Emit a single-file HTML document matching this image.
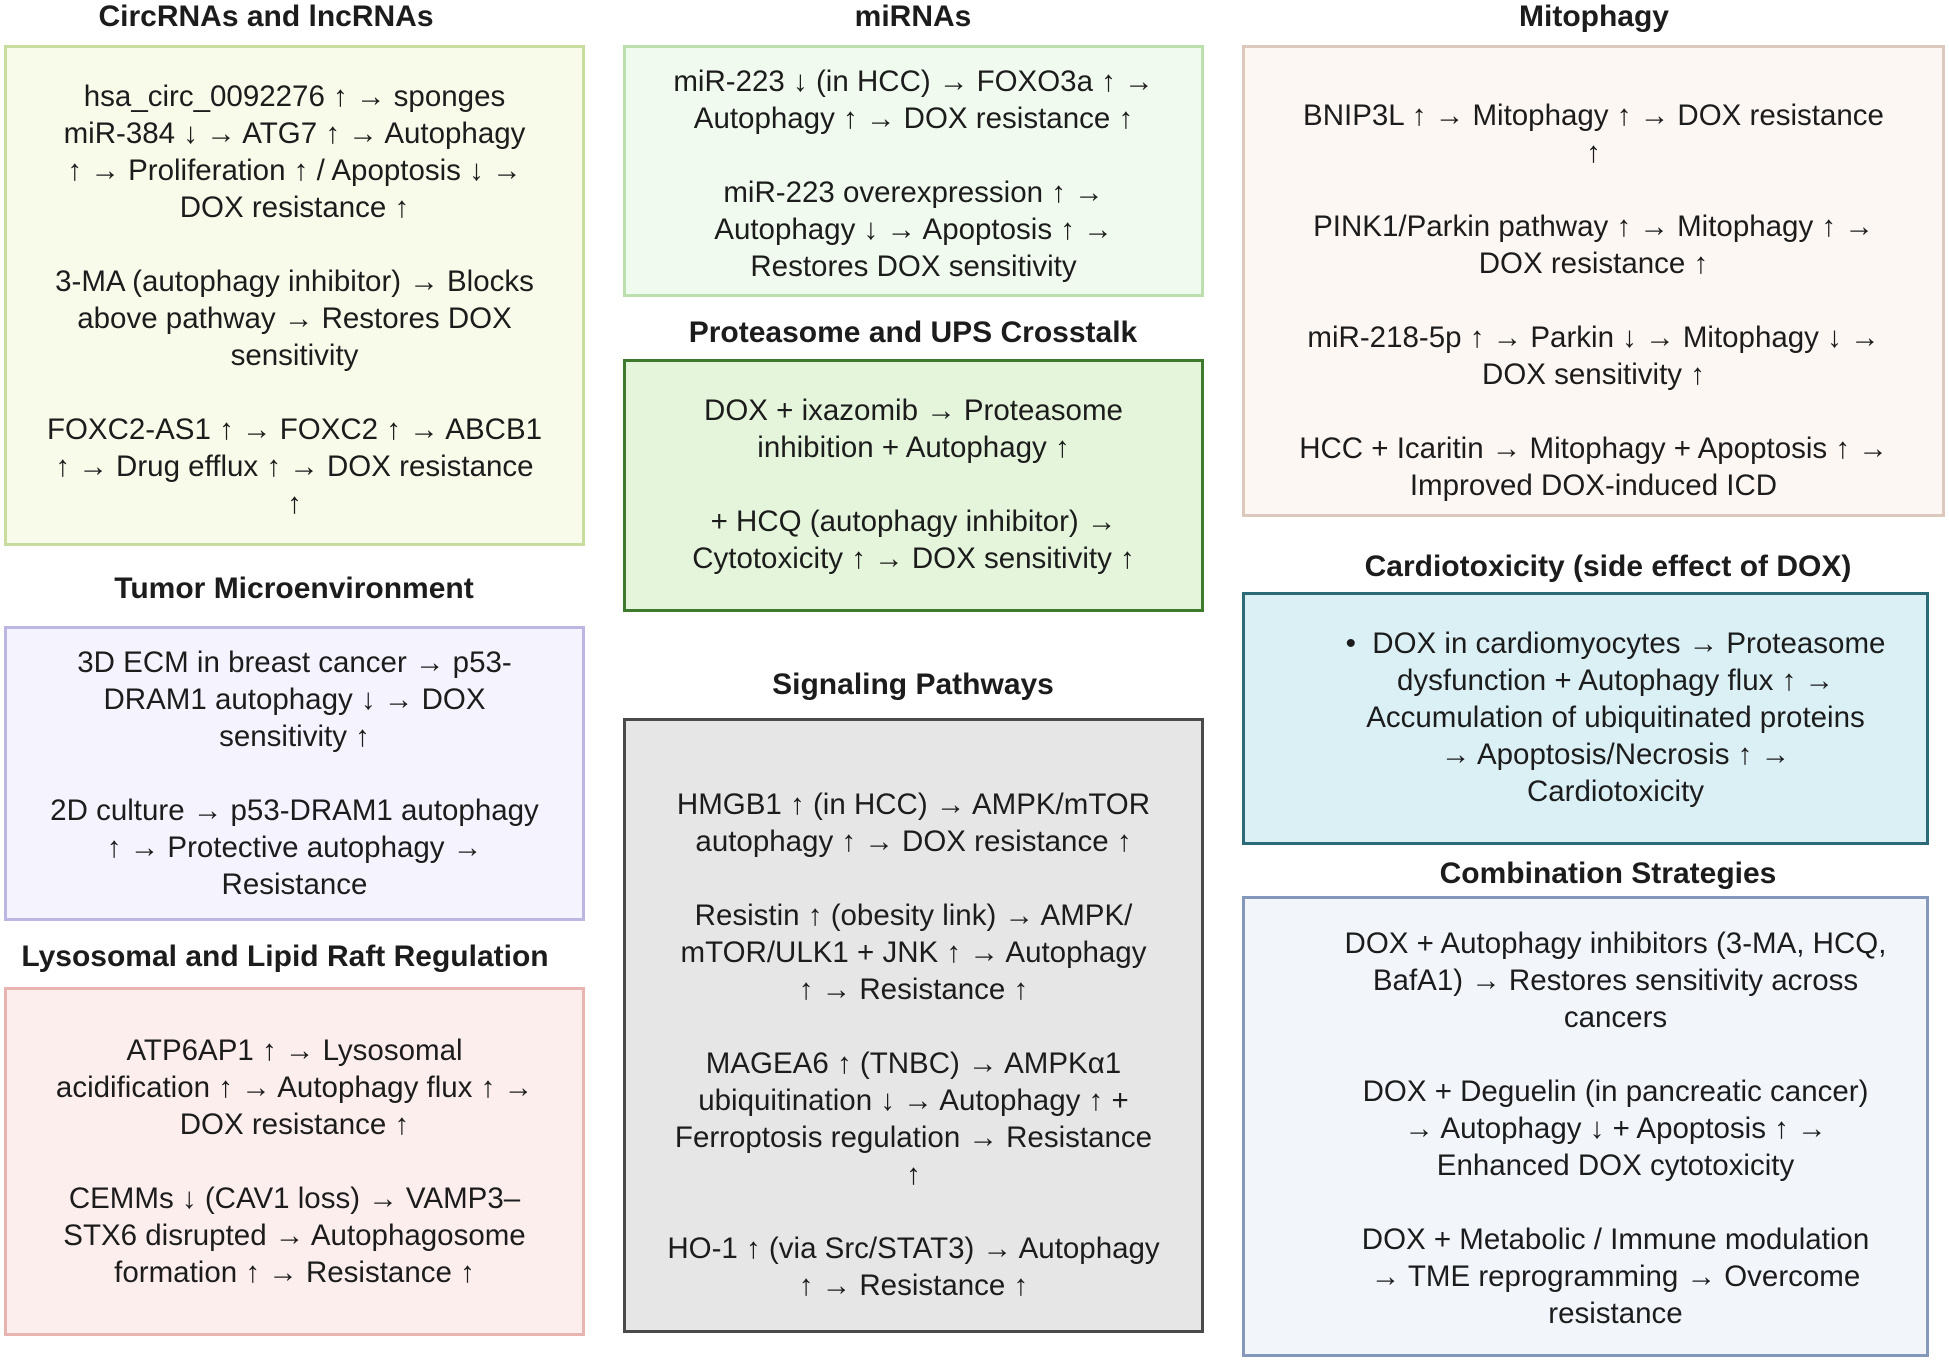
<!DOCTYPE html>
<html><head><meta charset="utf-8"><style>
body{margin:0;width:1949px;height:1364px;background:#fff;position:relative;overflow:hidden;font-family:"Liberation Sans",sans-serif;color:#1c1c1c}
.b{position:absolute;box-sizing:border-box;border:3px solid}
.t{position:absolute;left:0;right:0;text-align:center;font-size:29.5px;line-height:37px;white-space:nowrap}
.h{position:absolute;text-align:center;font-weight:bold;font-size:30px;white-space:nowrap;transform:translate(-50%,-50%)}
</style></head><body>
<div class="h" style="left:266px;top:17px">CircRNAs and lncRNAs</div>
<div class="b" style="left:4px;top:45px;width:581px;height:501px;background:#f8fbea;border-color:#c8dc9e"><div class="t" style="top:30px">hsa_circ_0092276 ↑ → sponges<br>miR-384 ↓ → ATG7 ↑ → Autophagy<br>↑ → Proliferation ↑ / Apoptosis ↓ →<br>DOX resistance ↑<br><br>3-MA (autophagy inhibitor) → Blocks<br>above pathway → Restores DOX<br>sensitivity<br><br>FOXC2-AS1 ↑ → FOXC2 ↑ → ABCB1<br>↑ → Drug efflux ↑ → DOX resistance<br>↑</div></div>

<div class="h" style="left:294px;top:589px">Tumor Microenvironment</div>
<div class="b" style="left:4px;top:626px;width:581px;height:295px;background:#f5f3fd;border-color:#bcb6e2"><div class="t" style="top:15px">3D ECM in breast cancer → p53-<br>DRAM1 autophagy ↓ → DOX<br>sensitivity ↑<br><br>2D culture → p53-DRAM1 autophagy<br>↑ → Protective autophagy →<br>Resistance</div></div>

<div class="h" style="left:285px;top:957px">Lysosomal and Lipid Raft Regulation</div>
<div class="b" style="left:4px;top:987px;width:581px;height:349px;background:#fdeeee;border-color:#e8b4b0"><div class="t" style="top:42px">ATP6AP1 ↑ → Lysosomal<br>acidification ↑ → Autophagy flux ↑ →<br>DOX resistance ↑<br><br>CEMMs ↓ (CAV1 loss) → VAMP3–<br>STX6 disrupted → Autophagosome<br>formation ↑ → Resistance ↑</div></div>

<div class="h" style="left:913px;top:17px">miRNAs</div>
<div class="b" style="left:623px;top:45px;width:581px;height:252px;background:#f0faee;border-color:#bcdfae"><div class="t" style="top:15px">miR-223 ↓ (in HCC) → FOXO3a ↑ →<br>Autophagy ↑ → DOX resistance ↑<br><br>miR-223 overexpression ↑ →<br>Autophagy ↓ → Apoptosis ↑ →<br>Restores DOX sensitivity</div></div>

<div class="h" style="left:913px;top:333px">Proteasome and UPS Crosstalk</div>
<div class="b" style="left:623px;top:359px;width:581px;height:253px;background:#e4f5db;border-color:#3d7a2c"><div class="t" style="top:30px">DOX + ixazomib → Proteasome<br>inhibition + Autophagy ↑<br><br>+ HCQ (autophagy inhibitor) →<br>Cytotoxicity ↑ → DOX sensitivity ↑</div></div>

<div class="h" style="left:913px;top:685px">Signaling Pathways</div>
<div class="b" style="left:623px;top:718px;width:581px;height:615px;background:#e6e6e6;border-color:#4a4a4a"><div class="t" style="top:65px">HMGB1 ↑ (in HCC) → AMPK/mTOR<br>autophagy ↑ → DOX resistance ↑<br><br>Resistin ↑ (obesity link) → AMPK/<br>mTOR/ULK1 + JNK ↑ → Autophagy<br>↑ → Resistance ↑<br><br>MAGEA6 ↑ (TNBC) → AMPKα1<br>ubiquitination ↓ → Autophagy ↑ +<br>Ferroptosis regulation → Resistance<br>↑<br><br>HO-1 ↑ (via Src/STAT3) → Autophagy<br>↑ → Resistance ↑</div></div>

<div class="h" style="left:1594px;top:17px">Mitophagy</div>
<div class="b" style="left:1242px;top:45px;width:703px;height:472px;background:#fdf7f3;border-color:#dcc8bc"><div class="t" style="top:49px">BNIP3L ↑ → Mitophagy ↑ → DOX resistance<br>↑<br><br>PINK1/Parkin pathway ↑ → Mitophagy ↑ →<br>DOX resistance ↑<br><br>miR-218-5p ↑ → Parkin ↓ → Mitophagy ↓ →<br>DOX sensitivity ↑<br><br>HCC + Icaritin → Mitophagy + Apoptosis ↑ →<br>Improved DOX-induced ICD</div></div>

<div class="h" style="left:1608px;top:567px">Cardiotoxicity (side effect of DOX)</div>
<div class="b" style="left:1242px;top:592px;width:687px;height:253px;background:#daf0f5;border-color:#2d6a78"><div class="t" style="top:30px;left:60px">• &nbsp;DOX in cardiomyocytes → Proteasome<br>dysfunction + Autophagy flux ↑ →<br>Accumulation of ubiquitinated proteins<br>→ Apoptosis/Necrosis ↑ →<br>Cardiotoxicity</div></div>

<div class="h" style="left:1608px;top:874px">Combination Strategies</div>
<div class="b" style="left:1242px;top:896px;width:687px;height:461px;background:#f2f5fa;border-color:#8398ba"><div class="t" style="top:26px;left:60px">DOX + Autophagy inhibitors (3-MA, HCQ,<br>BafA1) → Restores sensitivity across<br>cancers<br><br>DOX + Deguelin (in pancreatic cancer)<br>→ Autophagy ↓ + Apoptosis ↑ →<br>Enhanced DOX cytotoxicity<br><br>DOX + Metabolic / Immune modulation<br>→ TME reprogramming → Overcome<br>resistance</div></div>
</body></html>
